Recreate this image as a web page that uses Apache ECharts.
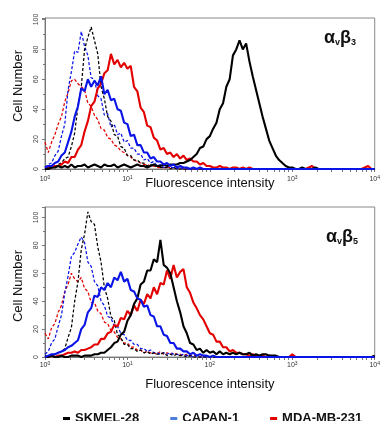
<!DOCTYPE html>
<html><head><meta charset="utf-8">
<script src="https://cdn.jsdelivr.net/npm/echarts@6/dist/echarts.min.js"></script>
<style>html,body{margin:0;padding:0;background:#fff}#c{width:383px;height:421px}</style>
</head><body><div id="c"></div>
<script>
// log10 of fluorescence channel (0.04-decade bins)
const logChannel = [
0,0.04,0.08,0.12,0.16,0.2,0.24,0.28,0.32,0.36,
0.4,0.44,0.48,0.52,0.56,0.6,0.64,0.68,0.72,0.76,
0.8,0.84,0.88,0.92,0.96,1,1.04,1.08,1.12,1.16,
1.2,1.24,1.28,1.32,1.36,1.4,1.44,1.48,1.52,1.56,
1.6,1.64,1.68,1.72,1.76,1.8,1.84,1.88,1.92,1.96,
2,2.04,2.08,2.12,2.16,2.2,2.24,2.28,2.32,2.36,
2.4,2.44,2.48,2.52,2.56,2.6,2.64,2.68,2.72,2.76,
2.8,2.84,2.88,2.92,2.96,3,3.04,3.08,3.12,3.16,
3.2,3.24,3.28,3.32,3.36,3.4,3.44,3.48,3.52,3.56,
3.6,3.64,3.68,3.72,3.76,3.8,3.84,3.88,3.92,3.96,
4];

// ---------- alpha-v beta-3 panel ----------
const b3_mdaCtrl = [
18,11,18,23,30,35,45,51,59,60,
57,55,53,44,42,36,33,27,26,21,
20,16,15,12,11,9,8,6,5,4,
3,3,2,2,1,1,1,1,1,1,
0,1,0,0,0,0,0,0,0,0,
0,0,0,0,0,0,0,0,0,0,
0,0,0,0,0,0,0,0,0,0,
0,0,0,0,0,0,0,0,0,0,
0,0,0,0,0,0,0,0,0,0,
0,0,0,0,0,0,0,0,0,0,
0];
const b3_capanCtrl = [
1,3,4,9,12,22,30,53,65,79,
78,92,82,76,61,60,49,47,36,37,
28,30,23,24,18,19,14,14,10,10,
6,7,4,5,2,3,1,2,1,1,
0,1,0,0,0,0,0,0,0,0,
0,0,0,0,0,0,0,0,0,0,
0,0,0,0,0,0,0,0,0,0,
0,0,0,0,0,0,0,0,0,0,
0,0,0,0,0,0,0,0,0,0,
0,0,0,0,0,0,0,0,0,0,
0];
const b3_skmelCtrl = [
0,0,1,1,3,4,7,8,15,24,
42,55,80,88,95,86,77,55,47,35,
32,23,22,15,14,9,9,6,6,4,
4,2,3,2,2,1,1,1,0,1,
0,0,0,0,0,0,0,0,0,0,
0,0,0,0,0,0,0,0,0,0,
0,0,0,0,0,0,0,0,0,0,
0,0,0,0,0,0,0,0,0,0,
0,0,0,0,0,0,0,0,0,0,
0,0,0,0,0,0,0,0,0,0,
0];
const b3_mda = [
0,1,1,2,2,3,5,4,8,8,
13,16,25,32,42,45,54,57,64,66,
77,70,73,68,71,67,69,55,52,41,
38,29,28,21,19,13,14,10,11,8,
10,7,9,6,7,5,5,3,4,2,
2,1,1,2,1,1,0,1,1,0,
1,0,1,0,0,0,0,0,0,0,
0,0,0,0,0,0,0,0,0,0,
1,2,0,0,0,0,0,0,0,0,
0,0,0,0,0,0,0,1,2,0,
0];
const b3_skmel = [
0,0,1,1,2,1,2,1,3,1,
2,2,3,1,2,3,2,1,3,2,
2,3,1,2,3,2,1,2,3,2,
2,1,2,3,2,2,3,2,3,3,
3,4,4,5,6,8,10,14,15,20,
22,27,31,40,44,55,60,76,80,86,
80,84,72,62,53,44,35,27,19,14,
9,6,4,2,1,1,0,0,1,0,
0,0,1,0,0,0,0,0,0,0,
0,0,0,0,0,0,0,0,0,0,
0];
const b3_capan = [
1,2,2,4,5,9,11,18,25,35,
42,54,52,60,55,59,56,62,50,53,
46,47,40,39,31,30,22,23,16,16,
11,11,7,8,5,5,3,4,2,3,
1,2,1,1,0,1,0,1,0,0,
0,0,0,0,0,0,0,0,0,0,
0,0,0,0,0,0,0,0,0,0,
0,0,0,0,0,0,0,0,0,0,
0,0,0,0,0,0,0,0,0,0,
0,0,0,0,0,0,0,0,0,0,
0];
// ---------- alpha-v beta-5 panel ----------
const b5_mdaCtrl = [
17,13,21,24,32,37,47,52,60,56,
54,57,49,47,39,39,33,31,25,24,
19,18,14,13,10,10,7,7,5,5,
3,4,3,3,2,4,2,3,2,3,
2,2,1,2,1,1,1,0,1,0,
0,0,0,0,0,0,0,0,0,0,
0,0,0,0,0,0,0,0,0,0,
0,0,0,0,0,0,0,0,0,0,
0,0,0,0,0,0,0,0,0,0,
0,0,0,0,0,0,0,0,0,0,
0];
const b5_capanCtrl = [
2,4,10,13,22,30,46,58,72,75,
81,86,82,68,65,54,51,40,37,29,
28,22,22,17,16,12,12,9,9,6,
6,4,5,3,3,2,3,2,3,2,
2,1,2,1,1,0,1,0,0,0,
0,0,0,0,0,0,0,0,0,0,
0,0,0,0,0,0,0,0,0,0,
0,0,0,0,0,0,0,0,0,0,
0,0,0,0,0,0,0,0,0,0,
0,0,0,0,0,0,0,0,0,0,
0];
const b5_skmelCtrl = [
1,0,2,2,3,4,6,14,21,40,
54,77,88,104,97,95,79,68,50,42,
29,26,16,14,9,9,6,6,4,5,
3,4,2,3,2,2,3,1,2,1,
2,1,1,0,1,0,0,0,0,0,
0,0,0,0,0,0,0,0,0,0,
0,0,0,0,0,0,0,0,0,0,
0,0,0,0,0,0,0,0,0,0,
0,0,0,0,0,0,0,0,0,0,
0,0,0,0,0,0,0,0,0,0,
0];
const b5_mda = [
0,0,1,0,1,1,2,3,3,4,
3,5,5,6,7,9,9,13,13,17,
18,23,22,28,27,33,30,37,33,41,
38,45,42,50,45,53,52,62,56,66,
57,61,63,50,46,39,35,30,27,22,
17,16,11,11,7,7,4,5,3,3,
2,2,1,2,1,1,1,0,1,0,
0,0,0,0,0,2,0,0,0,0,
0,0,0,0,0,0,0,0,0,0,
0,0,0,0,0,0,0,0,0,0,
0];
const b5_skmel = [
0,0,1,0,0,1,0,0,1,1,
1,0,1,1,1,2,2,3,3,5,
7,10,11,16,18,26,30,38,42,52,
54,62,62,70,68,84,66,64,60,50,
40,32,22,17,10,9,5,6,3,5,
3,4,2,4,2,3,2,3,2,3,
2,2,3,1,2,1,2,2,1,1,
1,0,0,0,0,0,0,0,0,0,
0,0,0,0,0,0,0,0,0,0,
0,0,0,0,0,0,0,0,0,0,
1];
const b5_capan = [
0,1,2,2,3,4,5,7,8,10,
12,20,23,32,35,44,43,50,48,53,
50,57,55,61,54,56,48,47,42,41,
36,37,30,29,22,22,16,15,10,10,
6,6,4,4,2,3,1,2,1,1,
0,1,0,0,0,0,0,0,0,0,
0,0,0,0,0,0,0,0,0,0,
0,0,0,0,0,0,0,0,0,0,
0,0,0,0,0,0,0,0,0,0,
0,0,0,0,0,0,0,0,0,0,
0];

const cellLines = ['SKMEL-28', 'CAPAN-1', 'MDA-MB-231'];
const xLabelTop = [0, 1, 3, 4];
const xLabelBottom = [0, 1, 2, 3, 4];
const yTicks = [0, 20, 40, 60, 80, 100];

const FONT = 'Liberation Sans, Arial, sans-serif';
const RED = '#e30000', BLUE = '#0a14e6', BLACK = '#000000';

// minor log ticks (axis decoration)
const xTickExp = [];
for (let d = 0; d < 4; d++) for (let k = 1; k <= 9; k++) xTickExp.push(d + Math.log10(k));
xTickExp.push(4);

function series(name, vals, color, dashed, gi) {
  return {
    name, type: 'line', xAxisIndex: gi, yAxisIndex: gi,
    data: logChannel.map((x, i) => [x, vals[i]]),
    showSymbol: false, symbol: 'none', silent: true,
    lineStyle: { color, width: dashed ? 1.25 : 2.1, type: dashed ? [3, 2] : 'solid' },
    itemStyle: { color }
  };
}

function xAx(gi, labels, gap) {
  return {
    type: 'value', gridIndex: gi, min: 0, max: 4, interval: 1,
    axisLine: { show: true, lineStyle: { color: '#777', width: 1 } },
    axisTick: { show: true, length: 3, customValues: xTickExp, lineStyle: { color: '#777' } },
    splitLine: { show: false },
    axisLabel: {
      customValues: labels, margin: gi === 0 ? 6 : 4,
      formatter: v => '{b|10}{s|' + v + '}',
      rich: {
        b: { fontSize: 7, color: '#333', fontFamily: FONT, verticalAlign: 'bottom' },
        s: { fontSize: 5, color: '#333', fontFamily: FONT, verticalAlign: 'bottom', padding: [0, 0, 3, 0] }
      }
    },
    name: 'Fluorescence intensity', nameLocation: 'middle', nameGap: gap,
    nameMoveOverlap: false,
    nameTextStyle: { fontSize: 13, color: '#111', fontFamily: FONT }
  };
}
function yAx(gi, max) {
  return {
    type: 'value', gridIndex: gi, min: 0, max, interval: 20,
    axisLine: { show: true, lineStyle: { color: '#777', width: 1 } },
    axisTick: { show: true, length: 3, lineStyle: { color: '#777' } },
    minorTick: { show: true, splitNumber: 2, length: 2, lineStyle: { color: '#777' } },
    splitLine: { show: false },
    axisLabel: {
      rotate: 90, fontSize: 7, color: '#444', margin: 5, fontFamily: FONT,
      formatter: v => (yTicks.indexOf(v) >= 0 ? String(v) : '')
    }
  };
}

const chart = echarts.init(document.getElementById('c'), null, { renderer: 'canvas' });
chart.setOption({
  animation: false,
  backgroundColor: '#fff',
  textStyle: { fontFamily: FONT },
  grid: [
    { left: 45, top: 18, width: 343, height: 151, show: true, borderColor: '#888', borderWidth: 1, backgroundColor: '#fff' },
    { left: 45, top: 207, width: 343, height: 150, show: true, borderColor: '#888', borderWidth: 1, backgroundColor: '#fff' }
  ],
  xAxis: [xAx(0, xLabelTop, 8), xAx(1, xLabelBottom, 21)],
  yAxis: [yAx(0, 101), yAx(1, 107.5)],
  legend: {
    left: 58, top: 407, itemGap: 31, itemWidth: 7, itemHeight: 3, icon: 'rect',
    selectedMode: false,
    textStyle: { fontSize: 13, fontWeight: 'bold', color: '#111', fontFamily: FONT },
    data: [
      { name: cellLines[0], itemStyle: { color: BLACK } },
      { name: cellLines[1], itemStyle: { color: '#4d7fd9' } },
      { name: cellLines[2], itemStyle: { color: RED } }
    ]
  },
  graphic: [
    { type: 'text', x: 18, y: 86, rotation: Math.PI / 2,
      style: { text: 'Cell Number', fontSize: 13, fill: '#111', fontFamily: FONT, align: 'center', verticalAlign: 'middle' } },
    { type: 'text', x: 18, y: 286, rotation: Math.PI / 2,
      style: { text: 'Cell Number', fontSize: 13, fill: '#111', fontFamily: FONT, align: 'center', verticalAlign: 'middle' } },
    { type: 'text', x: 324, y: 47,
      style: { text: '{g|α}{s|v}{g|β}{s|3}', verticalAlign: 'bottom', fill: '#111',
        rich: { g: { fontSize: 18, fontWeight: 'bold', fontFamily: FONT, verticalAlign: 'bottom' },
                s: { fontSize: 9, fontWeight: 'bold', fontFamily: FONT, verticalAlign: 'bottom' } } } },
    { type: 'text', x: 326, y: 246,
      style: { text: '{g|α}{s|v}{g|β}{s|5}', verticalAlign: 'bottom', fill: '#111',
        rich: { g: { fontSize: 18, fontWeight: 'bold', fontFamily: FONT, verticalAlign: 'bottom' },
                s: { fontSize: 9, fontWeight: 'bold', fontFamily: FONT, verticalAlign: 'bottom' } } } }
  ],
  series: [
    series('MDA-MB-231 ctrl β3', b3_mdaCtrl, RED, true, 0),
    series('CAPAN-1 ctrl β3', b3_capanCtrl, BLUE, true, 0),
    series('SKMEL-28 ctrl β3', b3_skmelCtrl, BLACK, true, 0),
    series(cellLines[2], b3_mda, RED, false, 0),
    series(cellLines[0], b3_skmel, BLACK, false, 0),
    series(cellLines[1], b3_capan, BLUE, false, 0),
    series('MDA-MB-231 ctrl β5', b5_mdaCtrl, RED, true, 1),
    series('CAPAN-1 ctrl β5', b5_capanCtrl, BLUE, true, 1),
    series('SKMEL-28 ctrl β5', b5_skmelCtrl, BLACK, true, 1),
    series(cellLines[2], b5_mda, RED, false, 1),
    series(cellLines[0], b5_skmel, BLACK, false, 1),
    series(cellLines[1], b5_capan, BLUE, false, 1)
  ]
});
</script>
</body></html>
